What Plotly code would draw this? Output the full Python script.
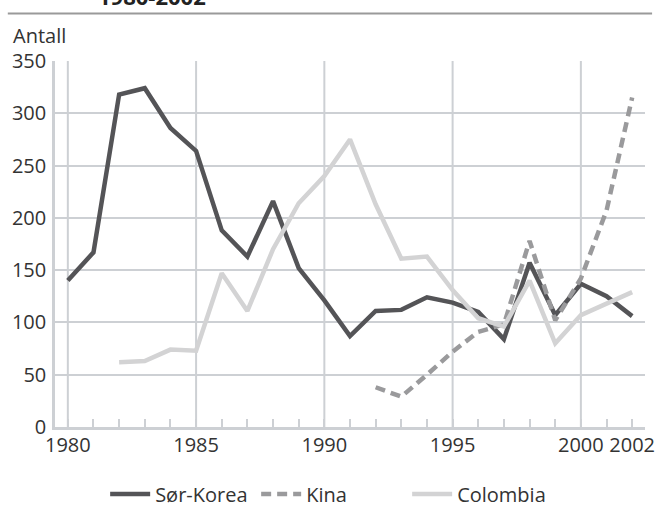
import plotly.graph_objects as go

# Years and values
years = list(range(1980, 2003))

sor_korea = [140, 167, 318, 324, 286, 264, 188, 163, 216, 152, 121, 87,
             111, 112, 124, 119, 110, 84, 157, 107, 137, 125, 106]

kina_years = list(range(1992, 2003))
kina = [38, 29, 50, 72, 91, 98, 178, 102, 142, 207, 315]

colombia_years = list(range(1982, 2003))
colombia = [62, 63, 74, 73, 147, 111, 170, 214, 240, 275, 213, 161, 163,
            131, 104, 96, 140, 80, 107, 118, 129]

x_tick_vals = [1980, 1985, 1990, 1995, 2000, 2002]
x_grid_vals = [1980, 1985, 1990, 1995, 2000]
y_tick_vals = [0, 50, 100, 150, 200, 250, 300, 350]

font_family = "Open Sans"
grid_color = "#cdd0d4"
text_color = "#333333"
fs = 20

fig = go.Figure()

fig.add_trace(go.Scatter(
    x=years, y=sor_korea, name="Sør-Korea", mode="lines",
    line=dict(color="#545457", width=4.5),
))
fig.add_trace(go.Scatter(
    x=kina_years, y=kina, name="Kina", mode="lines",
    line=dict(color="#9a9a9c", width=4.5, dash="10px,6px"),
))
fig.add_trace(go.Scatter(
    x=colombia_years, y=colombia, name="Colombia", mode="lines",
    line=dict(color="#d3d3d4", width=4.5),
))

# vertical gridlines (no gridline at 2002)
for gx in x_grid_vals:
    fig.add_shape(type="line", xref="x", yref="paper", x0=gx, x1=gx, y0=0, y1=1,
                  line=dict(color=grid_color, width=2), layer="below")

# rule under the (cut-off) title
fig.add_shape(type="line", xref="paper", yref="paper", x0=-0.08, x1=1.012,
              y0=1.1295, y1=1.1295, line=dict(color="#9a9a9a", width=2))

fig.add_annotation(text="<b>1980-2002</b>", xref="paper", yref="paper",
                   x=0.069, y=1.1303, xanchor="left", yanchor="bottom",
                   showarrow=False, font=dict(family=font_family, size=22, color="#222"))
fig.add_annotation(text="Antall", xref="paper", yref="paper",
                   x=-0.074, y=1.07, xanchor="left", yanchor="middle",
                   showarrow=False, font=dict(family=font_family, size=fs, color=text_color))

fig.update_layout(
    width=656, height=512,
    margin=dict(l=55, r=11, t=61, b=85),
    plot_bgcolor="white", paper_bgcolor="white",
    font=dict(family=font_family, size=fs, color=text_color),
    showlegend=True,
    legend=dict(orientation="h", xref="paper", x=0.085, xanchor="left",
                yref="container", y=0.035, yanchor="middle",
                font=dict(size=fs, color=text_color), itemwidth=40,
                entrywidth=96),
)

fig.update_xaxes(
    range=[1979.5, 2002.5], tickvals=x_tick_vals, showgrid=False,
    ticks="inside", ticklen=0, tickcolor=grid_color, automargin=False,
    minor=dict(dtick=1, tick0=1980, ticks="inside", ticklen=8, tickwidth=2,
               tickcolor=grid_color, showgrid=False),
    showline=True, linecolor=grid_color, linewidth=2.5, zeroline=False,
    ticklabelstandoff=-2, tickfont=dict(size=fs, color=text_color),
)
fig.update_yaxes(
    range=[0, 350], tickvals=y_tick_vals, showgrid=True, gridcolor=grid_color,
    gridwidth=2, showline=True, linecolor=grid_color, linewidth=2.5,
    zeroline=False, ticks="", ticklabelstandoff=2, automargin=False,
    tickfont=dict(size=fs, color=text_color),
)

# drop the default 8px body margin so the figure sits at the page corner
fig.write_html("out.html", config={"displayModeBar": False},
               post_script="document.body.style.margin='0';")
